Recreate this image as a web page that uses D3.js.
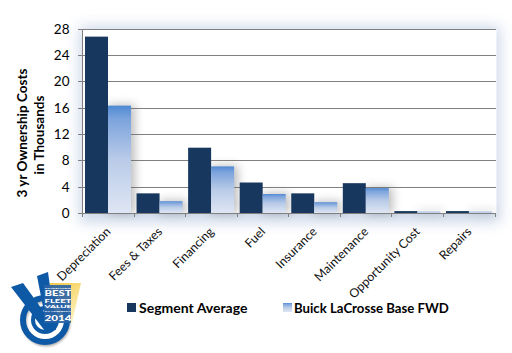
<!DOCTYPE html>
<html><head><meta charset="utf-8">
<script src="https://cdn.jsdelivr.net/npm/d3@7"></script>
<style>html,body{margin:0;background:#fff}svg{display:block}text{font-family:Lato,"Open Sans",sans-serif}</style>
</head><body><div id="c"></div>
<script>
const categories=["Depreciation","Fees & Taxes","Financing","Fuel","Insurance","Maintenance","Opportunity Cost","Repairs"];
const segmentAverage=[26.9,3.05,10.0,4.7,3.05,4.6,0.35,0.35];
const buickLaCrosse=[16.4,1.85,7.15,2.95,1.7,3.85,0.25,0.25];
const yTicks=[0,4,8,12,16,20,24,28];
const seriesNames=["Segment Average","Buick LaCrosse Base FWD"];
const logoLines=["VINCENTRIC","BEST","FLEET","VALUE","IN AMERICA","2014"];

const svg=d3.select("#c").append("svg").attr("width",512).attr("height",353);
const defs=svg.append("defs");
const g=defs.append("linearGradient").attr("id","lg").attr("x1",0).attr("y1",0).attr("x2",0).attr("y2",1);
[[0,"#4f89d3"],[0.12,"#7ba3dc"],[0.5,"#b9cbe8"],[1,"#dfe6f4"]].forEach(s=>g.append("stop").attr("offset",s[0]).attr("stop-color",s[1]));
const gold=defs.append("linearGradient").attr("id","gold").attr("x1",0).attr("y1",0).attr("x2",0.6).attr("y2",1);
[[0,"#f2c53d"],[1,"#fdf3c0"]].forEach(s=>gold.append("stop").attr("offset",s[0]).attr("stop-color",s[1]));
const mk=(id,sd)=>defs.append("filter").attr("id",id).attr("x","-30%").attr("y","-30%").attr("width","160%").attr("height","160%").append("feGaussianBlur").attr("stdDeviation",sd);
mk("halo",7);mk("barS",5);mk("logoS",1.2);

const L=82.5,R=495,T=29.4,B=213.4;
const x=d3.scaleBand().domain(categories).range([L,R]);
const y=d3.scaleLinear().domain([0,28]).range([B,T]);
const bw=23;

svg.append("rect").attr("x",L-3).attr("y",T-3).attr("width",R-L+8).attr("height",B-T+12)
  .attr("fill","#bccbe2").attr("filter","url(#halo)").attr("opacity",.75);
svg.append("rect").attr("x",L).attr("y",T).attr("width",R-L+1.5).attr("height",B-T).attr("fill","#fff");

const grid=svg.append("g").attr("shape-rendering","crispEdges");
grid.selectAll("line").data(yTicks).join("line")
  .attr("x1",L-5).attr("x2",R+1).attr("y1",d=>y(d)).attr("y2",d=>y(d))
  .attr("stroke","#808080").attr("stroke-width",1);
grid.append("line").attr("x1",L).attr("x2",L).attr("y1",T).attr("y2",B+4).attr("stroke","#808080");

const shadow=svg.append("g").attr("filter","url(#barS)").attr("opacity",.42);
shadow.selectAll("rect").data(categories).join("rect")
  .attr("x",d=>x(d)+2.5+bw).attr("width",bw+4)
  .attr("y",(d,i)=>y(buickLaCrosse[i])-1)
  .attr("height",(d,i)=>B-y(buickLaCrosse[i])+1)
  .attr("fill","#666");

svg.append("line").attr("x1",L).attr("x2",R+1).attr("y1",B).attr("y2",B).attr("stroke","#808080").attr("shape-rendering","crispEdges");
const xt=[...categories.map(c=>x(c)),R];
svg.selectAll("line.xt").data(xt).join("line").attr("class","xt").attr("shape-rendering","crispEdges")
  .attr("x1",d=>d).attr("x2",d=>d).attr("y1",B).attr("y2",B+4).attr("stroke","#808080");

const base=y(0)-0.4;
const bars=svg.append("g");
bars.selectAll("rect.a").data(segmentAverage).join("rect").attr("class","a")
  .attr("x",(d,i)=>x(categories[i])+2.5).attr("width",bw)
  .attr("y",d=>y(d)).attr("height",d=>base-y(d)).attr("fill","#17375e");
bars.selectAll("rect.b").data(buickLaCrosse).join("rect").attr("class","b")
  .attr("x",(d,i)=>x(categories[i])+2.5+bw).attr("width",bw)
  .attr("y",d=>y(d)).attr("height",d=>base-y(d)).attr("fill","url(#lg)");

svg.selectAll("text.yl").data(yTicks).join("text").attr("class","yl")
  .attr("x",69.5).attr("y",d=>y(d)+4.5).attr("text-anchor","end")
  .attr("font-size",13.5).attr("fill","#000").text(d=>d);

svg.selectAll("text.xl").data(categories).join("text").attr("class","xl")
  .attr("transform",d=>`translate(${x(d)+x.bandwidth()/2},${B+16}) rotate(-45)`)
  .attr("text-anchor","end").attr("dy","0.35em").attr("font-size",12.3).attr("fill","#111").text(d=>d);

const yt=svg.append("text").attr("transform","translate(0,133) rotate(-90)")
  .attr("text-anchor","middle").attr("font-weight",700).attr("font-size",13.5).attr("fill","#000");
yt.append("tspan").attr("x",0).attr("y",27).text("3 yr Ownership Costs");
yt.append("tspan").attr("x",-2).attr("y",44).text("in Thousands");

svg.append("rect").attr("x",127).attr("y",303).attr("width",9).attr("height",9).attr("fill","#17375e");
svg.append("text").attr("x",139).attr("y",312.5).attr("font-weight",700).attr("font-size",14).attr("fill","#000").text(seriesNames[0]);
svg.append("rect").attr("x",283).attr("y",303).attr("width",9).attr("height",9).attr("fill","url(#lg)");
svg.append("text").attr("x",294).attr("y",312.5).attr("font-weight",700).attr("font-size",13.2).attr("fill","#000").text(seriesNames[1]);

// logo
const logo=svg.append("g");
logo.append("circle").attr("cx",46).attr("cy",322).attr("r",22).attr("fill","none").attr("stroke","#777").attr("stroke-width",5).attr("filter","url(#logoS)").attr("opacity",.6);
logo.append("path").attr("d","M50 283 L81 283 L72 323 L43 323 Z").attr("fill","url(#gold)");
logo.append("circle").attr("cx",45).attr("cy",320).attr("r",22).attr("fill","none").attr("stroke","#0e59a6").attr("stroke-width",6);
logo.append("circle").attr("cx",45).attr("cy",320).attr("r",12).attr("fill","none").attr("stroke","#0e59a6").attr("stroke-width",4);
logo.append("path").attr("d","M11 287 L23 283 L44 312 L37 276 L48 272 L56 330 L45 331 Z").attr("fill","#0e59a6");
logo.append("path").attr("d","M44 285 L71 285 L71 323 L44 323 Z").attr("fill","#2a63a6").attr("opacity",.9);
const lg=[[288.5,2.2],[296,6.5],[302.5,5.2],[308,4.4],[312,2.6],[321,7.2]];
logo.selectAll("text.l").data(logoLines).join("text").attr("class","l")
  .attr("x",44.5).attr("y",(d,i)=>lg[i][0]).attr("textLength",27).attr("lengthAdjust","spacingAndGlyphs")
  .attr("font-size",(d,i)=>lg[i][1]).attr("font-weight",900).attr("fill","#fff").text(d=>d);
</script></body></html>
